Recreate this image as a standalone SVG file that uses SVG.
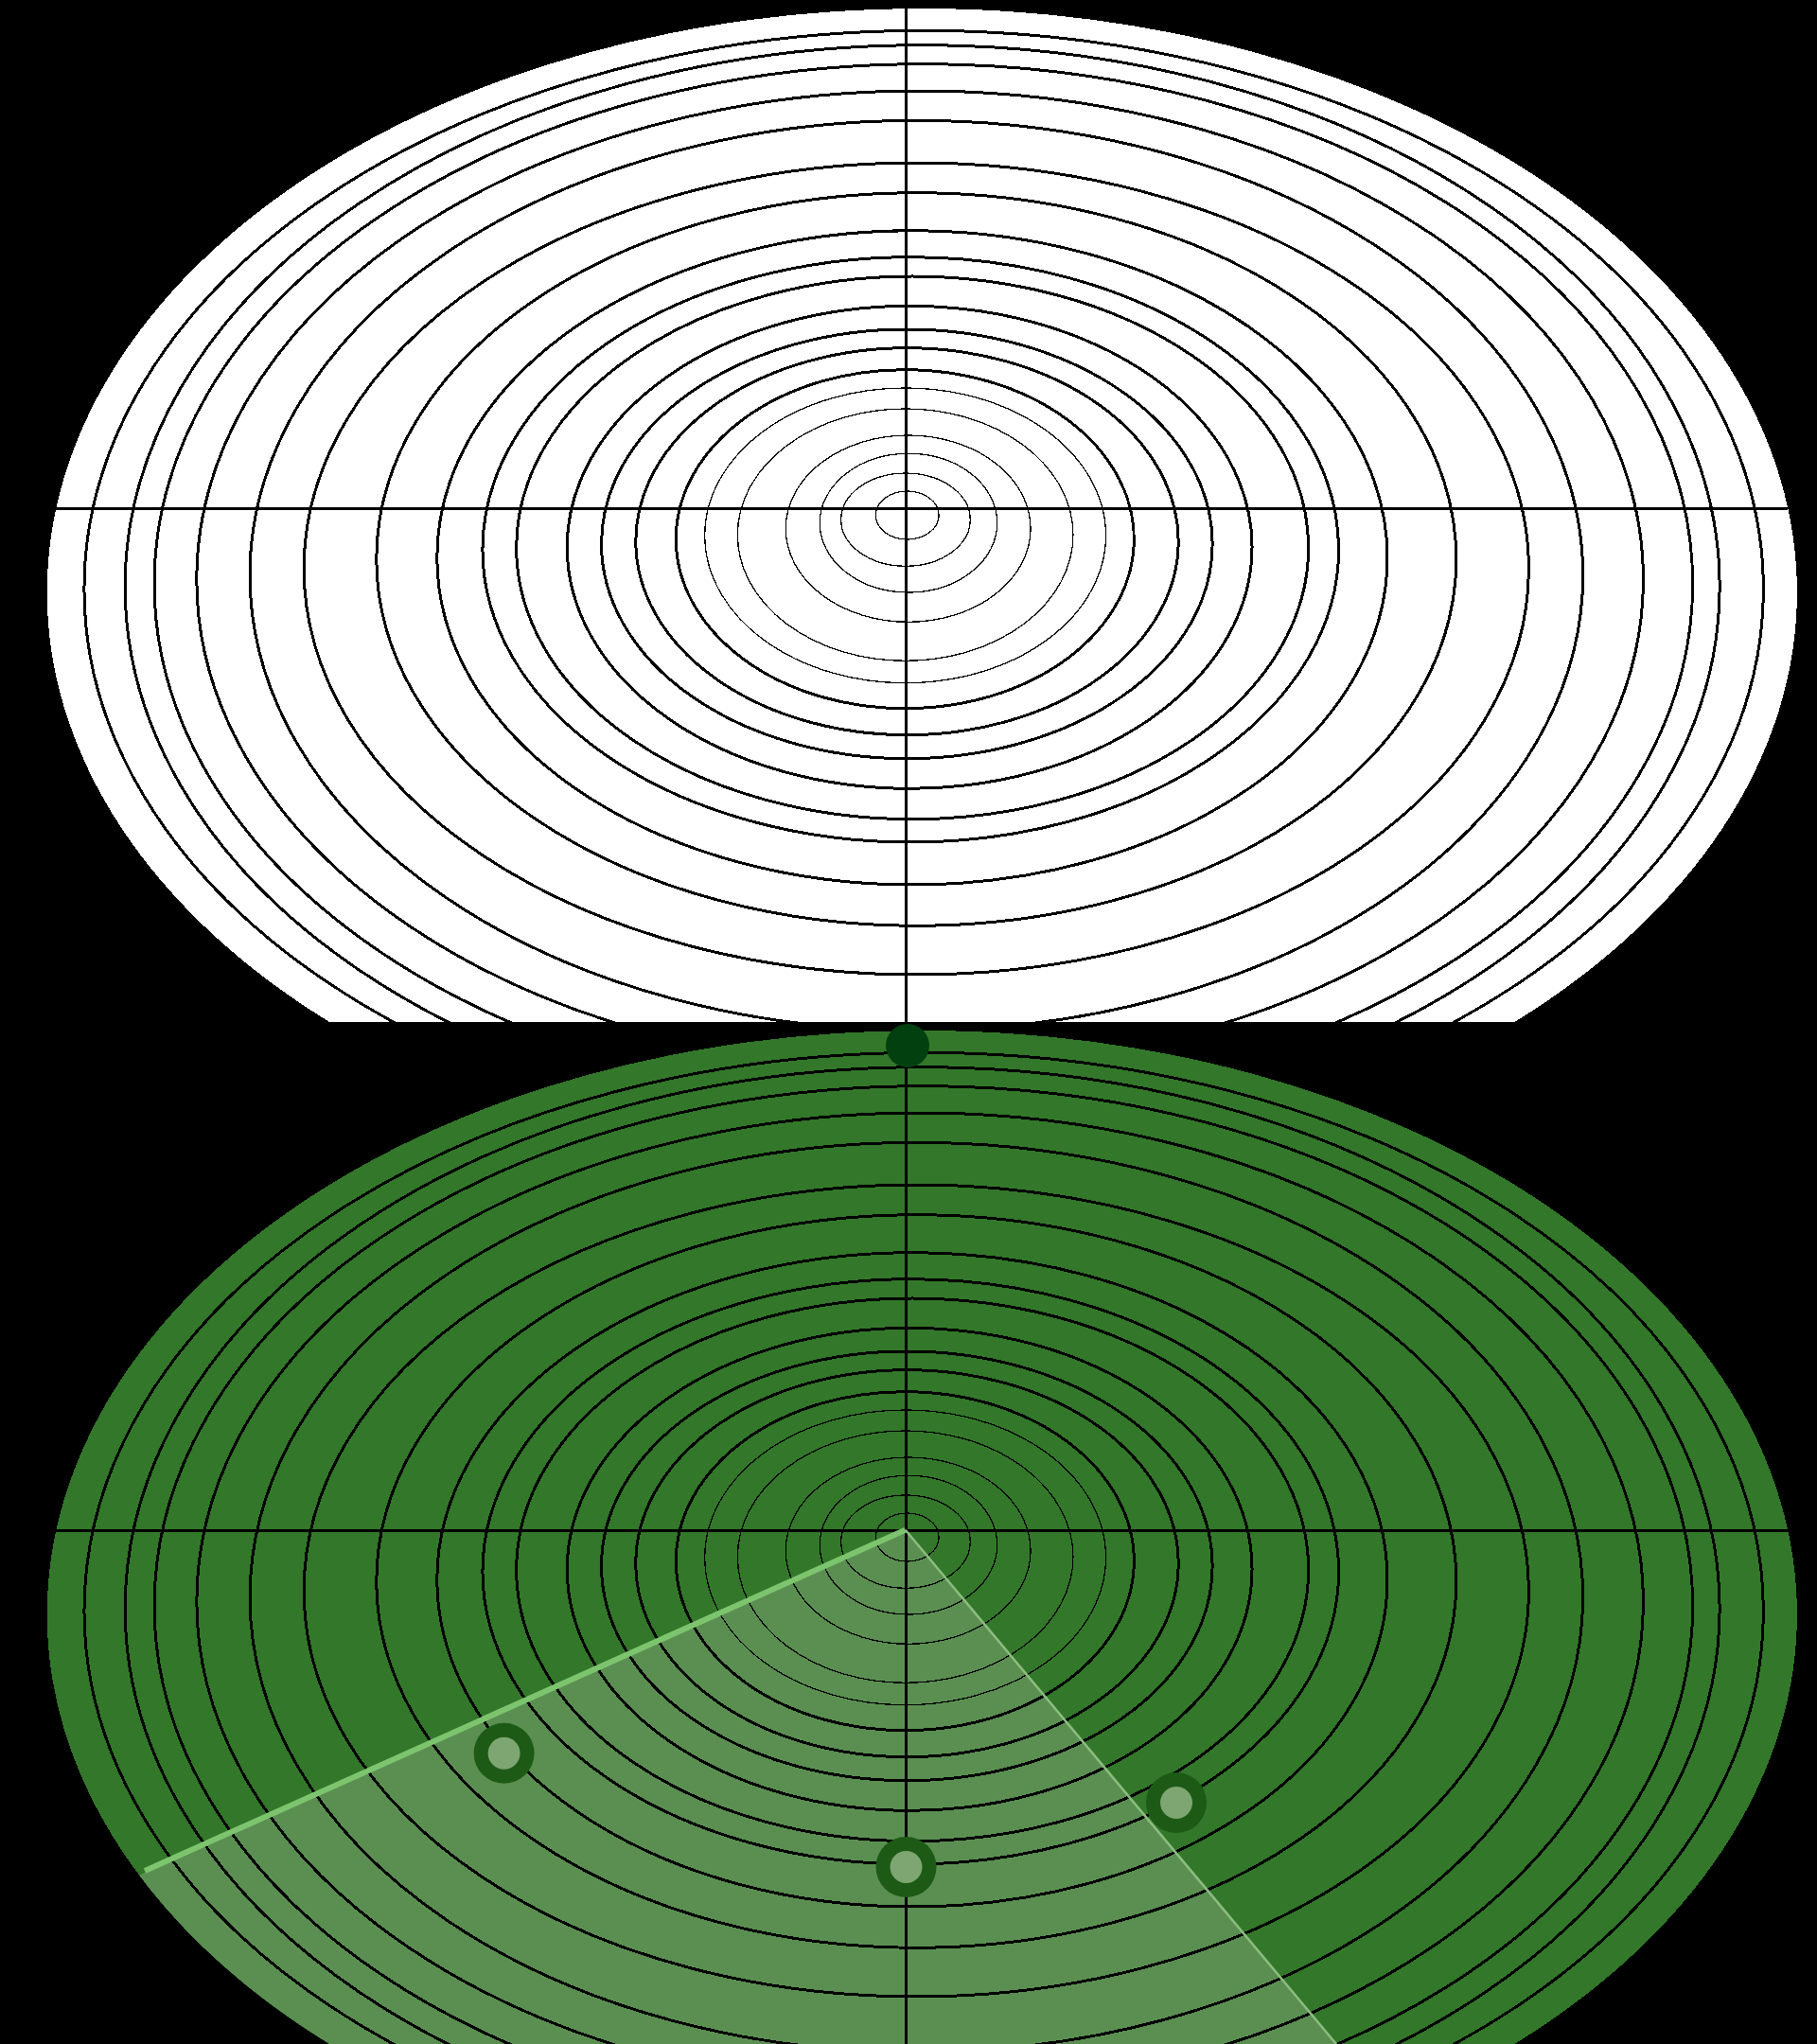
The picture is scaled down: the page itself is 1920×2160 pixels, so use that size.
<svg xmlns="http://www.w3.org/2000/svg" xmlns:xlink="http://www.w3.org/1999/xlink" width="1920" height="2160" viewBox="0 0 1920 2160">
<style>
.ring{fill:none;stroke:#000;stroke-width:3}
.thin{stroke-width:1.3}
.axis{stroke:#000;stroke-width:3.6}
.blipo{fill:#1d5a16}
.blipi{fill:#7da672}
</style>
<defs>
<clipPath id="topClip"><rect x="0" y="0" width="1920" height="1080"/></clipPath>
<clipPath id="greenClip"><ellipse cx="974.3" cy="1706" rx="924.6" ry="617"/></clipPath>
<g id="rings">
<ellipse class="ring thin" cx="958.7" cy="544.5" rx="33.4" ry="25.5"/>
<ellipse class="ring thin" cx="957" cy="549.15" rx="68.3" ry="49.15"/>
<ellipse class="ring thin" cx="960" cy="552.65" rx="93.8" ry="73.35"/>
<ellipse class="ring thin" cx="959.65" cy="558.65" rx="129.4" ry="98.65"/>
<ellipse class="ring thin" cx="956.65" cy="565.15" rx="177.3" ry="133.15"/>
<ellipse class="ring thin" cx="956.65" cy="565.85" rx="211.9" ry="155.85"/>
<ellipse class="ring" cx="956.3" cy="569.7" rx="242" ry="179"/>
<ellipse class="ring" cx="958.5" cy="572.2" rx="286.7" ry="204.5"/>
<ellipse class="ring" cx="958.35" cy="574.85" rx="322.8" ry="226.85"/>
<ellipse class="ring" cx="961.15" cy="578.3" rx="361.9" ry="255"/>
<ellipse class="ring" cx="964.15" cy="578.85" rx="418.5" ry="286.85"/>
<ellipse class="ring" cx="962.25" cy="580.85" rx="452.3" ry="309.15"/>
<ellipse class="ring" cx="963.9" cy="589.35" rx="502.1" ry="345.65"/>
<ellipse class="ring" cx="968.3" cy="591" rx="570.5" ry="387.3"/>
<ellipse class="ring" cx="968.3" cy="601" rx="647.1" ry="429"/>
<ellipse class="ring" cx="968.35" cy="608" rx="704.3" ry="480.7"/>
<ellipse class="ring" cx="972.15" cy="612.6" rx="764.3" ry="516.6"/>
<ellipse class="ring" cx="975.85" cy="617" rx="812.8" ry="549.3"/>
<ellipse class="ring" cx="974.65" cy="620" rx="842.5" ry="572.3"/>
<ellipse class="ring" cx="976.15" cy="622.5" rx="887.2" ry="590.2"/>
<line class="axis" x1="59" y1="537.3" x2="1889" y2="537.3"/>
<line class="axis" x1="957.5" y1="9" x2="957.5" y2="1080"/>
</g>
</defs>
<rect x="0" y="0" width="1920" height="2160" fill="#000"/>
<g id="radar-top" clip-path="url(#topClip)" shape-rendering="crispEdges">
<ellipse cx="974.3" cy="626" rx="924.6" ry="617" fill="#fff"/>
<use xlink:href="#rings" href="#rings"/>
</g>
<g id="radar-bottom" shape-rendering="crispEdges">
<ellipse cx="974.3" cy="1706" rx="924.6" ry="617" fill="#33772a"/>
<polygon id="sweep" clip-path="url(#greenClip)" points="956.7,1616.7 -645,2339 -645,2600 1700,2600 1639,2431" fill="#5b8f52"/>
<use xlink:href="#rings" href="#rings" transform="translate(0,1080)"/>
</g>
<g id="connectors">
<line x1="956.7" y1="1616.7" x2="153" y2="1977" stroke="#7cc56e" stroke-width="6"/>
<line x1="956.7" y1="1616.7" x2="1412" y2="2160" stroke="#8cbd80" stroke-width="2.5"/>
</g>
<g id="blip-a"><circle class="blipo" cx="532.6" cy="1852.7" r="32"/><circle class="blipi" cx="532.6" cy="1852.7" r="17"/></g>
<g id="blip-b"><circle class="blipo" cx="957.5" cy="1973" r="32"/><circle class="blipi" cx="957.5" cy="1973" r="17"/></g>
<g id="blip-c"><circle class="blipo" cx="1243" cy="1905" r="32"/><circle class="blipi" cx="1243" cy="1905" r="17"/></g>
<g id="marker-top"><circle cx="959" cy="1105" r="23" fill="#03400f"/></g>
</svg>
